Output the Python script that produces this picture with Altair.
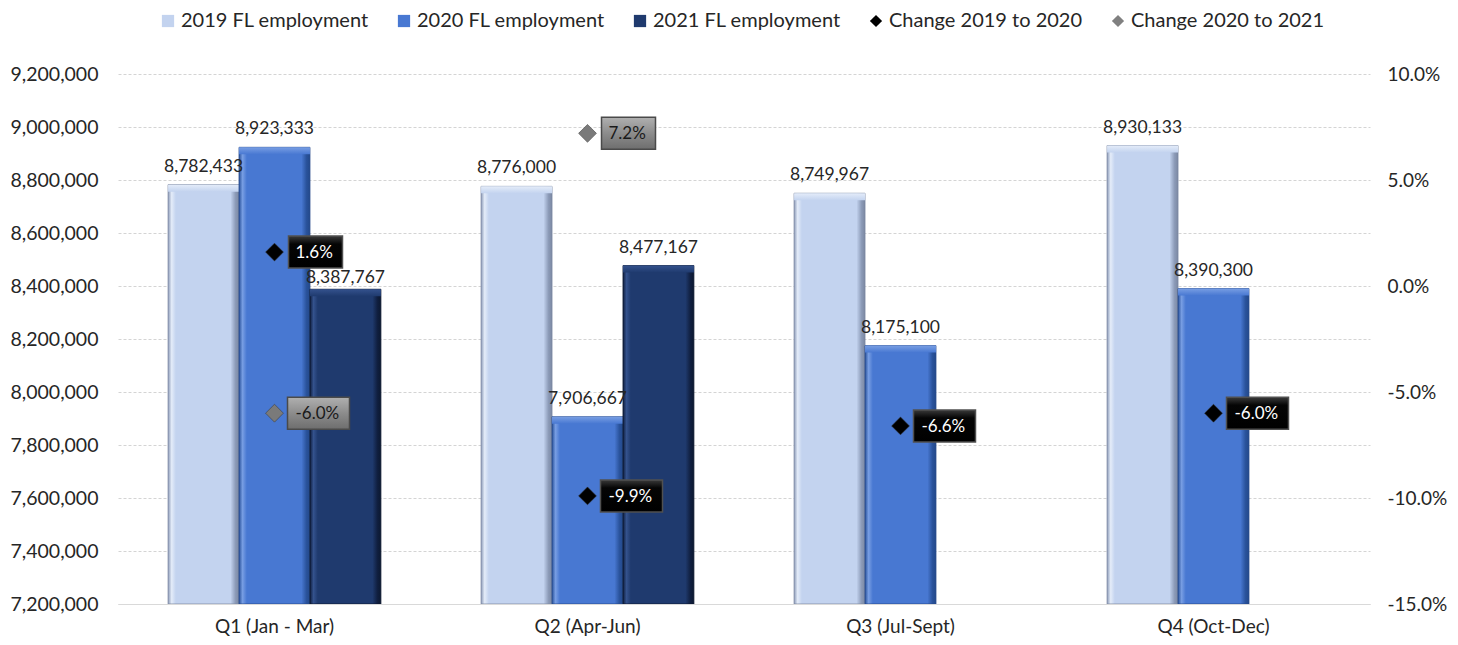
import altair as alt
import pandas as pd

quarters = ["Q1 (Jan - Mar)", "Q2 (Apr-Jun)", "Q3 (Jul-Sept)", "Q4 (Oct-Dec)"]
years = ["2019", "2020", "2021"]
emp_2019 = [8782433, 8776000, 8749967, 8930133]
emp_2020 = [8923333, 7906667, 8175100, 8390300]
emp_2021 = [8387767, 8477167, None, None]
chg_19_20 = [0.016, -0.099, -0.066, -0.060]
chg_20_21 = [-0.060, 0.072, None, None]
series_names = ["2019 FL employment", "2020 FL employment", "2021 FL employment",
                "Change 2019 to 2020", "Change 2020 to 2021"]
left_ticks = [7200000, 7400000, 7600000, 7800000, 8000000, 8200000, 8400000, 8600000,
              8800000, 9000000, 9200000]
right_ticks = [-0.15, -0.10, -0.05, 0.0, 0.05, 0.10]

FONT = "Lato"

rows = []
for yr, vals in zip(years, [emp_2019, emp_2020, emp_2021]):
    for q, v in zip(quarters, vals):
        if v is not None:
            rows.append({"quarter": q, "year": yr, "value": v})
bars_df = pd.DataFrame(rows)

crow = []
for sname, vals in zip(series_names[3:], [chg_19_20, chg_20_21]):
    for q, v in zip(quarters, vals):
        if v is not None:
            lab = f"{v*100:.1f}%"
            crow.append({"quarter": q, "series": sname, "value": v, "label": lab,
                         "long": len(lab) > 4})
chg_df = pd.DataFrame(crow)
legend_df = pd.DataFrame({"series": series_names, "quarter": quarters[0], "value": 0})

x_enc = alt.X("quarter:N", sort=quarters,
              scale=alt.Scale(domain=quarters, paddingInner=0.32, paddingOuter=0.16),
              axis=alt.Axis(title=None, labelAngle=0, ticks=False, domain=True,
                            domainColor="#d9d9d9", labelFontSize=19, labelPadding=13,
                            labelColor="#262626", grid=False, labelFont=FONT))
xoff = alt.XOffset("year:N", scale=alt.Scale(domain=years, paddingInner=0, paddingOuter=0))
yl_scale = alt.Scale(domain=[7200000, 9200000], nice=False, zero=False)
yr_scale = alt.Scale(domain=[-0.15, 0.10], nice=False, zero=False)
yl_axis = alt.Axis(title=None, labelExpr="format(datum.value, ',')", grid=True,
                   gridDash=[3, 2], gridColor="#d4d4d4",
                   ticks=False, domain=False, labelFontSize=19.5, labelColor="#262626",
                   labelPadding=20, values=left_ticks, labelFont=FONT)
yr_axis = alt.Axis(title=None, labelExpr="replace(format(datum.value, '.1%'), '\u2212', '-')",
                   orient="right", grid=False, ticks=False,
                   domain=False, labelFontSize=19, labelColor="#262626", labelPadding=17,
                   values=right_ticks, labelFont=FONT)
yl = alt.Y("value:Q", scale=yl_scale, axis=yl_axis)
yr = alt.Y("value:Q", scale=yr_scale, axis=yr_axis)

bar_styles = {
    "2019": ("#c3d3ef", "#e4ecf9", "#8c9bb8", "#7b88a2"),
    "2020": ("#4878d2", "#789ee3", "#2a539c", "#23488a"),
    "2021": ("#1f3a6e", "#34528d", "#101f40", "#0c1830"),
}

def bar_layer(yr_name):
    base, hi, dark, stroke = bar_styles[yr_name]
    grad = alt.Gradient(gradient="linear", x1=0, x2=1, y1=0, y2=0, stops=[
        alt.GradientStop(offset=0, color=dark),
        alt.GradientStop(offset=0.05, color=hi),
        alt.GradientStop(offset=0.11, color=base),
        alt.GradientStop(offset=0.88, color=base),
        alt.GradientStop(offset=0.95, color=dark),
        alt.GradientStop(offset=1, color=stroke),
    ])
    sub = alt.Chart(bars_df).transform_filter(alt.datum.year == yr_name)
    main = sub.mark_bar(fill=grad, stroke=stroke, strokeWidth=0.8, clip=True).encode(
        x=x_enc, xOffset=xoff, y=yl, y2=alt.datum(7200000))
    topgrad = alt.Gradient(gradient="linear", x1=0, x2=0, y1=0, y2=1, stops=[
        alt.GradientStop(offset=0, color=hi),
        alt.GradientStop(offset=1, color=base),
    ])
    top = sub.mark_bar(fill=topgrad, y2Offset=7, xOffset=4, x2Offset=-4, clip=True).encode(
        x=x_enc, xOffset=xoff, y=yl, y2=alt.Y2("value:Q"))
    return [main, top]

layers_left = bar_layer("2019") + bar_layer("2020") + bar_layer("2021")

is_q1_2021 = (alt.datum.quarter == quarters[0]) & (alt.datum.year == "2021")
bar_labels = alt.Chart(bars_df).transform_filter(~is_q1_2021).mark_text(
    baseline="bottom", dy=-9, fontSize=17.5, color="#262626", font=FONT
).encode(x=x_enc, xOffset=xoff, y=yl, text=alt.Text("value:Q", format=","))
bar_label_q1 = alt.Chart(bars_df).transform_filter(is_q1_2021).mark_text(
    baseline="bottom", dy=-2, fontSize=17.5, color="#262626", font=FONT
).encode(x=x_enc, xOffset=xoff, y=yl, text=alt.Text("value:Q", format=","))

legend_layer = alt.Chart(legend_df).mark_point(filled=True, clip=True, opacity=1).encode(
    x=x_enc, y=yl,
    color=alt.Color("series:N", sort=series_names,
                    scale=alt.Scale(domain=series_names,
                                    range=["#c3d3ef", "#4878d2", "#1f3a6e", "#000000", "#808080"]),
                    legend=alt.Legend(orient="none", legendX=40, legendY=-63,
                                      direction="horizontal", title=None, labelFontSize=20,
                                      labelFont=FONT, labelColor="#262626", symbolSize=150,
                                      columnPadding=25, labelOffset=3, labelLimit=400)),
    shape=alt.Shape("series:N", sort=series_names,
                    scale=alt.Scale(domain=series_names,
                                    range=["square", "square", "square", "diamond", "diamond"])),
)

left = alt.layer(*layers_left, bar_labels, bar_label_q1, legend_layer)

box_short = "M0.875,-1L4.25,-1L4.25,1L0.875,1Z"
box_long = "M0.8125,-1L4.6875,-1L4.6875,1L0.8125,1Z"
gray_grad = alt.Gradient(gradient="linear", x1=0, x2=0, y1=0, y2=1, stops=[
    alt.GradientStop(offset=0, color="#b0b0b0"),
    alt.GradientStop(offset=0.5, color="#8c8c8c"),
    alt.GradientStop(offset=1, color="#6e6e6e"),
])
black_grad = alt.Gradient(gradient="linear", x1=0, x2=0, y1=0, y2=1, stops=[
    alt.GradientStop(offset=0, color="#3a3a3a"),
    alt.GradientStop(offset=0.25, color="#050505"),
    alt.GradientStop(offset=1, color="#000000"),
])

right_layers = []
for sname, dfill, bfill, bstroke, tcol in [
    (series_names[3], "#000000", black_grad, "#505050", "#ffffff"),
    (series_names[4], "#7a7a7a", gray_grad, "#4a4a4a", "#1a1a1a"),
]:
    sub = alt.Chart(chg_df).transform_filter(alt.datum.series == sname)
    right_layers.append(sub.mark_point(shape="diamond", filled=True, size=320, fill=dfill,
                                       stroke="#333333", strokeWidth=0.5, opacity=1).encode(
        x=x_enc, y=yr))
    for is_long, path in [(False, box_short), (True, box_long)]:
        right_layers.append(sub.transform_filter(alt.datum.long == is_long).mark_point(
            shape=path, filled=True, size=1024, fill=bfill, stroke=bstroke, strokeWidth=1.5,
            opacity=1).encode(x=x_enc, y=yr))
    right_layers.append(sub.mark_text(align="left", baseline="middle", dx=21, dy=1, fontSize=17,
                                      color=tcol, font=FONT).encode(
        x=x_enc, y=yr, text="label:N"))

right = alt.layer(*right_layers)

chart = alt.layer(left, right).resolve_scale(y="independent").properties(
    width=1252, height=530,
    padding={"left": 110, "top": 66, "right": 80, "bottom": 33},
    autosize=alt.AutoSizeParams(type="none"),
).configure(font=FONT, background="white").configure_view(stroke=None)

chart.save("out.html", embed_options={"renderer": "svg", "actions": False})
